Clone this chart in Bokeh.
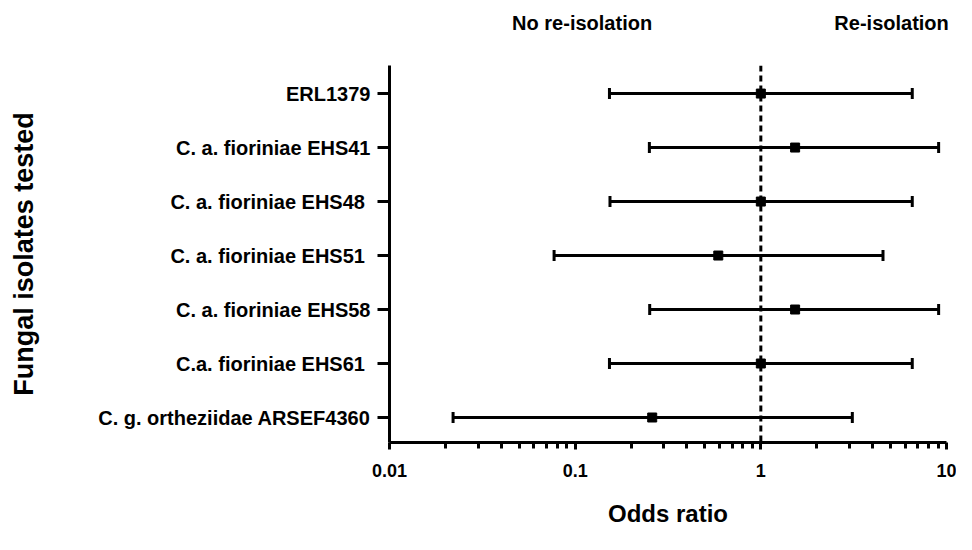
import math
from bokeh.plotting import figure
from bokeh.models import (ColumnDataSource, Range1d, FixedTicker, Whisker, TeeHead,
                          Span, LogAxis, CustomJSTickFormatter)
from bokeh.embed import file_html
from bokeh.resources import INLINE

# ---- data ----
isolates = ["ERL1379", "C. a. fioriniae EHS41", "C. a. fioriniae EHS48 ",
            "C. a. fioriniae EHS51 ", "C. a. fioriniae EHS58", "C.a.  fioriniae EHS61",
            "C. g. ortheziidae ARSEF4360"]
odds_ratio = [1.0, 1.53, 1.0, 0.59, 1.53, 1.0, 0.26]
ci_lower = [0.153, 0.251, 0.154, 0.077, 0.252, 0.153, 0.022]
ci_upper = [6.54, 9.07, 6.54, 4.55, 9.07, 6.54, 3.11]
x_major_ticks = [0.01, 0.1, 1, 10]
x_tick_labels = {0.01: "0.01", 0.1: "0.1", 1: "1", 10: "10"}
side_labels = ["No re-isolation", "Re-isolation"]
side_label_at = [0.109, 5.06]

FONT = "Liberation Sans"
n = len(isolates)
ypos = [n - i for i in range(n)]

src = ColumnDataSource(dict(y=ypos, odds=odds_ratio, lo=ci_lower, hi=ci_upper))

p = figure(width=956, height=534, x_axis_type="log",
           x_range=Range1d(0.01, 10), y_range=Range1d(0.537, 7.52),
           output_backend="svg", toolbar_location=None,
           min_border_left=389, min_border_right=10, min_border_top=65,
           min_border_bottom=92)
p.outline_line_color = None
p.grid.visible = False
p.background_fill_color = "white"
p.border_fill_color = "white"

# x axis
xa = p.xaxis[0]
minor = [k * 10 ** e for e in range(-2, 1) for k in range(2, 10)]
xa.ticker = FixedTicker(ticks=x_major_ticks, minor_ticks=minor)
xa.major_label_overrides = x_tick_labels
xa.axis_line_width = 3
xa.major_tick_line_width = 3
xa.minor_tick_line_width = 3
xa.major_tick_out = 7
xa.major_tick_in = 0
xa.minor_tick_out = 6
xa.minor_tick_in = 0
xa.major_label_text_font = FONT
xa.major_label_text_font_style = "bold"
xa.major_label_text_font_size = "18px"
xa.major_label_text_color = "black"
xa.major_label_standoff = 14
xa.axis_label = "Odds ratio"
xa.axis_label_text_font = FONT
xa.axis_label_text_font_style = "bold"
xa.axis_label_text_font_size = "24px"
xa.axis_label_text_color = "black"
xa.axis_label_standoff = 20

# y axis
ya = p.yaxis[0]
ya.ticker = FixedTicker(ticks=ypos)
ya.major_label_overrides = {y: lab for y, lab in zip(ypos, isolates)}
ya.axis_line_width = 3
ya.major_tick_line_width = 3
ya.major_tick_out = 12
ya.major_tick_in = 0
ya.minor_tick_line_color = None
ya.major_label_text_font = FONT
ya.major_label_text_font_style = "bold"
ya.major_label_text_font_size = "20px"
ya.major_label_text_color = "black"
ya.major_label_standoff = 7
ya.axis_label = "Fungal isolates tested"
ya.axis_label_text_font = FONT
ya.axis_label_text_font_style = "bold"
ya.axis_label_text_font_size = "27px"
ya.axis_label_text_color = "black"
ya.axis_label_standoff = 56

# top labels (No re-isolation / Re-isolation)
top = LogAxis(ticker=FixedTicker(ticks=side_label_at, minor_ticks=[]),
              formatter=CustomJSTickFormatter(args=dict(labels=side_labels),
                                              code="return labels[index];"))
top.axis_line_color = None
top.major_tick_line_color = None
top.minor_tick_line_color = None
top.major_tick_out = 0
top.major_tick_in = 0
top.major_label_text_font = FONT
top.major_label_text_font_style = "bold"
top.major_label_text_font_size = "20px"
top.major_label_text_color = "black"
top.major_label_standoff = 32
p.add_layout(top, "above")

# reference line at OR = 1
p.add_layout(Span(location=1, dimension="height", line_color="black",
                  line_width=3, line_dash="6 4"))

# confidence intervals
w = Whisker(source=src, base="y", lower="lo", upper="hi", dimension="width",
            line_color="black", line_width=3,
            lower_head=TeeHead(size=11, line_width=3, line_color="black"),
            upper_head=TeeHead(size=11, line_width=3, line_color="black"))
p.add_layout(w)

p.scatter(x="odds", y="y", source=src, marker="square", size=9,
          color="black")

open("out.html", "w").write(file_html(p, INLINE))
